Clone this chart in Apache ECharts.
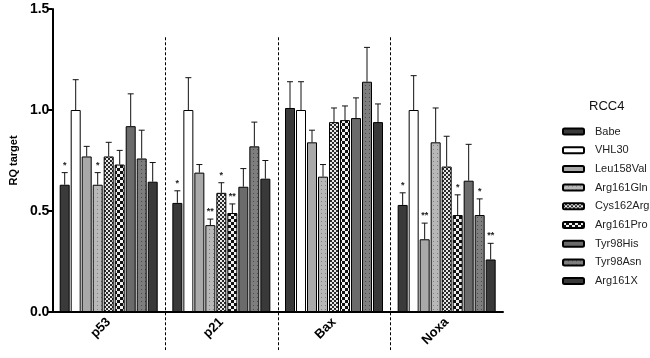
<!DOCTYPE html>
<html>
<head>
<meta charset="utf-8">
<script src="https://cdn.jsdelivr.net/npm/echarts@6/dist/echarts.min.js"></script>
<style>
  html, body { margin: 0; padding: 0; background: #fff; }
  #chart { width: 650px; height: 358px; }
</style>
</head>
<body>
<div id="chart"></div>
<script>
// categories (genes) and series (RCC4 cell lines)
const genes = ['p53', 'p21', 'Bax', 'Noxa']
const lines = ['Babe', 'VHL30', 'Leu158Val', 'Arg161Gln', 'Cys162Arg', 'Arg161Pro', 'Tyr98His', 'Tyr98Asn', 'Arg161X']
const yTicks = [0, 0.5, 1.0, 1.5]

// mean RQ per line, order = genes
const babe = [0.63, 0.54, 1.01, 0.53]
const vhl30 = [1.0, 1.0, 1.0, 1.0]
const leu158Val = [0.77, 0.69, 0.84, 0.36]
const arg161Gln = [0.63, 0.43, 0.67, 0.84]
const cys162Arg = [0.77, 0.59, 0.94, 0.72]
const arg161Pro = [0.73, 0.49, 0.95, 0.48]
const tyr98His = [0.92, 0.62, 0.96, 0.65]
const tyr98Asn = [0.76, 0.82, 1.14, 0.48]
const arg161X = [0.645, 0.66, 0.94, 0.26]

// upper error (SEM)
const babeErr = [0.06, 0.06, 0.13, 0.06]
const vhl30Err = [0.15, 0.16, 0.14, 0.17]
const leu158ValErr = [0.05, 0.04, 0.06, 0.08]
const arg161GlnErr = [0.06, 0.03, 0.06, 0.17]
const cys162ArgErr = [0.07, 0.05, 0.07, 0.15]
const arg161ProErr = [0.07, 0.045, 0.07, 0.10]
const tyr98HisErr = [0.16, 0.09, 0.10, 0.18]
const tyr98AsnErr = [0.14, 0.12, 0.17, 0.08]
const arg161XErr = [0.095, 0.09, 0.09, 0.08]

// significance marks
const babeSig = ['*', '*', '', '*']
const vhl30Sig = ['', '', '', '']
const leu158ValSig = ['', '', '', '**']
const arg161GlnSig = ['*', '**', '', '']
const cys162ArgSig = ['', '*', '', '']
const arg161ProSig = ['', '**', '', '*']
const tyr98HisSig = ['', '', '', '']
const tyr98AsnSig = ['', '', '', '*']
const arg161XSig = ['', '', '', '**']

const values = [babe, vhl30, leu158Val, arg161Gln, cys162Arg, arg161Pro, tyr98His, tyr98Asn, arg161X]
const errors = [babeErr, vhl30Err, leu158ValErr, arg161GlnErr, cys162ArgErr, arg161ProErr, tyr98HisErr, tyr98AsnErr, arg161XErr]
const sigs = [babeSig, vhl30Sig, leu158ValSig, arg161GlnSig, cys162ArgSig, arg161ProSig, tyr98HisSig, tyr98AsnSig, arg161XSig]

const FONT = 'Liberation Sans, Arial, sans-serif'
const BAR_W = 10
const GAP = 0.1 // barGap as fraction of bar width

// little canvas tiles for the hatched fills
function tile (size, draw) {
  const c = document.createElement('canvas')
  c.width = c.height = size
  draw(c.getContext('2d'), size)
  return { image: c, repeat: 'repeat' }
}
function dots (bg, fg) {
  return tile(4, (ctx) => {
    ctx.fillStyle = bg; ctx.fillRect(0, 0, 4, 4)
    ctx.fillStyle = fg; ctx.fillRect(1, 1, 1, 1)
  })
}
function checker (a, b, cell) {
  return tile(cell * 2, (ctx) => {
    ctx.fillStyle = a; ctx.fillRect(0, 0, cell * 2, cell * 2)
    ctx.fillStyle = b
    ctx.fillRect(0, 0, cell, cell)
    ctx.fillRect(cell, cell, cell, cell)
  })
}

const fills = [
  '#3a3a3a',
  '#ffffff',
  '#a9a9a9',
  dots('#b8b8b8', '#7c7c7c'),
  checker('#2a2a2a', '#e8e8e8', 2),
  checker('#111111', '#f0f0f0', 3),
  '#6b6b6b',
  dots('#7e7e7e', '#4a4a4a'),
  '#393939'
]

const myChart = echarts.init(document.getElementById('chart'))

const barSeries = lines.map((name, i) => ({
  name: name,
  type: 'bar',
  data: values[i],
  barWidth: BAR_W,
  barGap: GAP * 100 + '%',
  itemStyle: { color: fills[i], borderColor: '#000', borderWidth: 1 },
  emphasis: { disabled: true },
  z: 2
}))

// error bars + stars, one item per bar
const errItems = []
lines.forEach((name, si) => {
  genes.forEach((g, gi) => {
    errItems.push([gi, si, values[si][gi], errors[si][gi]])
  })
})

const errSeries = {
  type: 'custom',
  data: errItems,
  z: 5,
  silent: true,
  renderItem: function (params, api) {
    const gi = api.value(0)
    const si = api.value(1)
    const v = api.value(2)
    const e = api.value(3)
    const base = api.coord([gi, v])
    const top = api.coord([gi, v + e])
    const n = lines.length
    const total = n * BAR_W + (n - 1) * BAR_W * GAP
    const x = base[0] - total / 2 + si * BAR_W * (1 + GAP) + BAR_W / 2
    const style = { stroke: '#111', lineWidth: 1 }
    const children = [
      { type: 'line', shape: { x1: x, y1: base[1], x2: x, y2: top[1] }, style: style },
      { type: 'line', shape: { x1: x - 3, y1: top[1], x2: x + 3, y2: top[1] }, style: style }
    ]
    const mark = sigs[si][gi]
    if (mark) {
      children.push({
        type: 'text',
        style: {
          x: x, y: top[1] - 3, text: mark, align: 'center', verticalAlign: 'bottom',
          fill: '#222', font: 'bold 9px ' + FONT
        }
      })
    }
    return { type: 'group', children: children }
  }
}

const option = {
  animation: false,
  textStyle: { fontFamily: FONT },
  title: {
    text: 'RCC4',
    left: 589,
    top: 100,
    padding: 0,
    textStyle: { fontSize: 13, fontWeight: 'normal', color: '#111', fontFamily: FONT }
  },
  legend: {
    data: lines,
    orient: 'vertical',
    left: 562,
    top: 126,
    padding: 0,
    itemWidth: 21,
    itemHeight: 6,
    itemGap: 7.7,
    selectedMode: false,
    textStyle: { fontSize: 11, color: '#222', fontFamily: FONT, padding: [0, 0, 0, 6] }
  },
  grid: { left: 47, right: 147, top: 9, bottom: 46 },
  xAxis: {
    type: 'category',
    data: genes,
    axisLine: { lineStyle: { color: '#000', width: 2 } },
    axisTick: { alignWithLabel: true, length: 5, lineStyle: { color: '#000', width: 2 } },
    axisLabel: { rotate: 45, fontSize: 13, fontWeight: 'bold', color: '#000', margin: 8 },
    splitLine: { show: false }
  },
  yAxis: {
    type: 'value',
    min: yTicks[0],
    max: yTicks[yTicks.length - 1],
    interval: 0.5,
    name: 'RQ target',
    nameLocation: 'middle',
    nameRotate: 90,
    nameGap: 30,
    nameTextStyle: { fontSize: 11, fontWeight: 'bold', color: '#000' },
    axisLine: { show: true, lineStyle: { color: '#000', width: 2 } },
    axisTick: { show: true, length: 5, lineStyle: { color: '#000', width: 2 } },
    axisLabel: { fontSize: 14, fontWeight: 'bold', color: '#000', margin: 3, formatter: (v) => v.toFixed(1) },
    splitLine: { show: false }
  },
  series: barSeries.concat([errSeries])
}

myChart.setOption(option)

// dashed separators between gene groups, placed from the axis scale
const seps = []
for (let i = 0; i < genes.length - 1; i++) {
  const a = myChart.convertToPixel({ xAxisIndex: 0 }, i)
  const b = myChart.convertToPixel({ xAxisIndex: 0 }, i + 1)
  const x = Math.round((a + b) / 2) + 0.5
  const yTop = myChart.convertToPixel({ yAxisIndex: 0 }, 1.36)
  const yBot = myChart.convertToPixel({ yAxisIndex: 0 }, 0) + 38
  seps.push({
    type: 'line',
    z: 10,
    shape: { x1: x, y1: yTop, x2: x, y2: yBot },
    style: { stroke: '#000', lineWidth: 1, lineDash: [3, 2] }
  })
}
myChart.setOption({ graphic: seps })
</script>
</body>
</html>
